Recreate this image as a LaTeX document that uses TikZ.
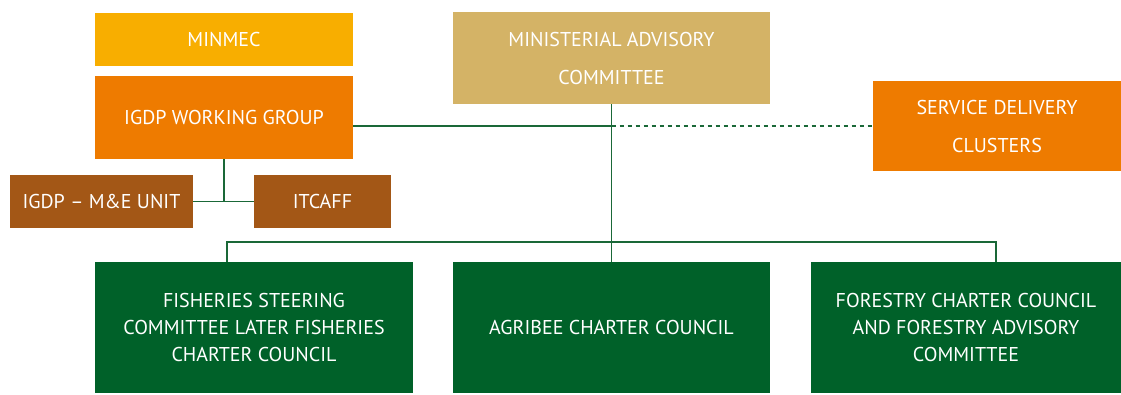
\documentclass[tikz,border=0pt]{standalone}
\usepackage{fontspec}
\setmainfont{PT Sans}
\usepackage{xcolor}
\usepackage{tikz}
\usetikzlibrary{positioning}

\definecolor{minmecyellow}{RGB}{248,174,0}
\definecolor{grouporange}{RGB}{238,123,0}
\definecolor{advisorygold}{RGB}{212,179,102}
\definecolor{unitbrown}{RGB}{163,87,22}
\definecolor{councilgreen}{RGB}{0,97,41}
\definecolor{linkgreen}{RGB}{26,104,56}

\tikzset{
    orgbox/.style={rectangle, inner sep=0pt, align=center, text=white,
        font=\fontsize{15}{28.5}\selectfont},
    councilbox/.style={orgbox, fill=councilgreen, minimum width=#1*0.75pt,
        minimum height=98.25pt, font=\fontsize{15}{20.25}\selectfont},
    link/.style={draw=linkgreen, line width=1pt}
}

\begin{document}
\begin{tikzpicture}[x=0.75pt, y=-0.75pt]
    \useasboundingbox (0,0) rectangle (1121,394);

    % Top row
    \node[orgbox, fill=minmecyellow, minimum width=193.5pt, minimum height=39.75pt] (minmec) at (224,39.5) {MINMEC};
    \node[orgbox, fill=grouporange, minimum width=193.5pt, minimum height=62.25pt] (wg) at (224,117.5) {IGDP WORKING GROUP};
    \node[orgbox, fill=advisorygold, minimum width=237.75pt, minimum height=69pt] (mac) at (611.5,58) {MINISTERIAL ADVISORY\\COMMITTEE};
    \node[orgbox, fill=grouporange, minimum width=186pt, minimum height=67.5pt] (sdc) at (997,126) {SERVICE DELIVERY\\CLUSTERS};

    % Units under the working group
    \node[orgbox, fill=unitbrown, minimum width=137.25pt, minimum height=39.75pt] (me) at (101.5,201.5) {IGDP -- M\&E UNIT};
    \node[orgbox, fill=unitbrown, minimum width=102.75pt, minimum height=39.75pt] (itc) at (322.5,201.5) {ITCAFF};

    % Charter councils
    \node[councilbox=318] (fish) at (254,327.5) {FISHERIES STEERING\\COMMITTEE LATER FISHERIES\\CHARTER COUNCIL};
    \node[councilbox=317] (agri) at (611.5,327.5) {AGRIBEE CHARTER COUNCIL};
    \node[councilbox=310] (forest) at (966,327.5) {FORESTRY CHARTER COUNCIL\\AND FORESTRY ADVISORY\\COMMITTEE};

    % Connections
    \coordinate (cross) at (611.5,126);
    \coordinate (bus) at (611.5,242);
    \draw[link] (wg.east |- cross) -- (cross);
    \draw[link, dashed] (cross) -- (sdc.west);
    \draw[link] (mac.south) -- (agri.north);
    \draw[link] ([xshift=-20.25pt]fish.north) |- (bus) -| ([xshift=22.5pt]forest.north);
    \draw[link] (wg.south) -- (wg.south |- me.east);
    \draw[link] (me.east) -- (itc.west);
\end{tikzpicture}
\end{document}
